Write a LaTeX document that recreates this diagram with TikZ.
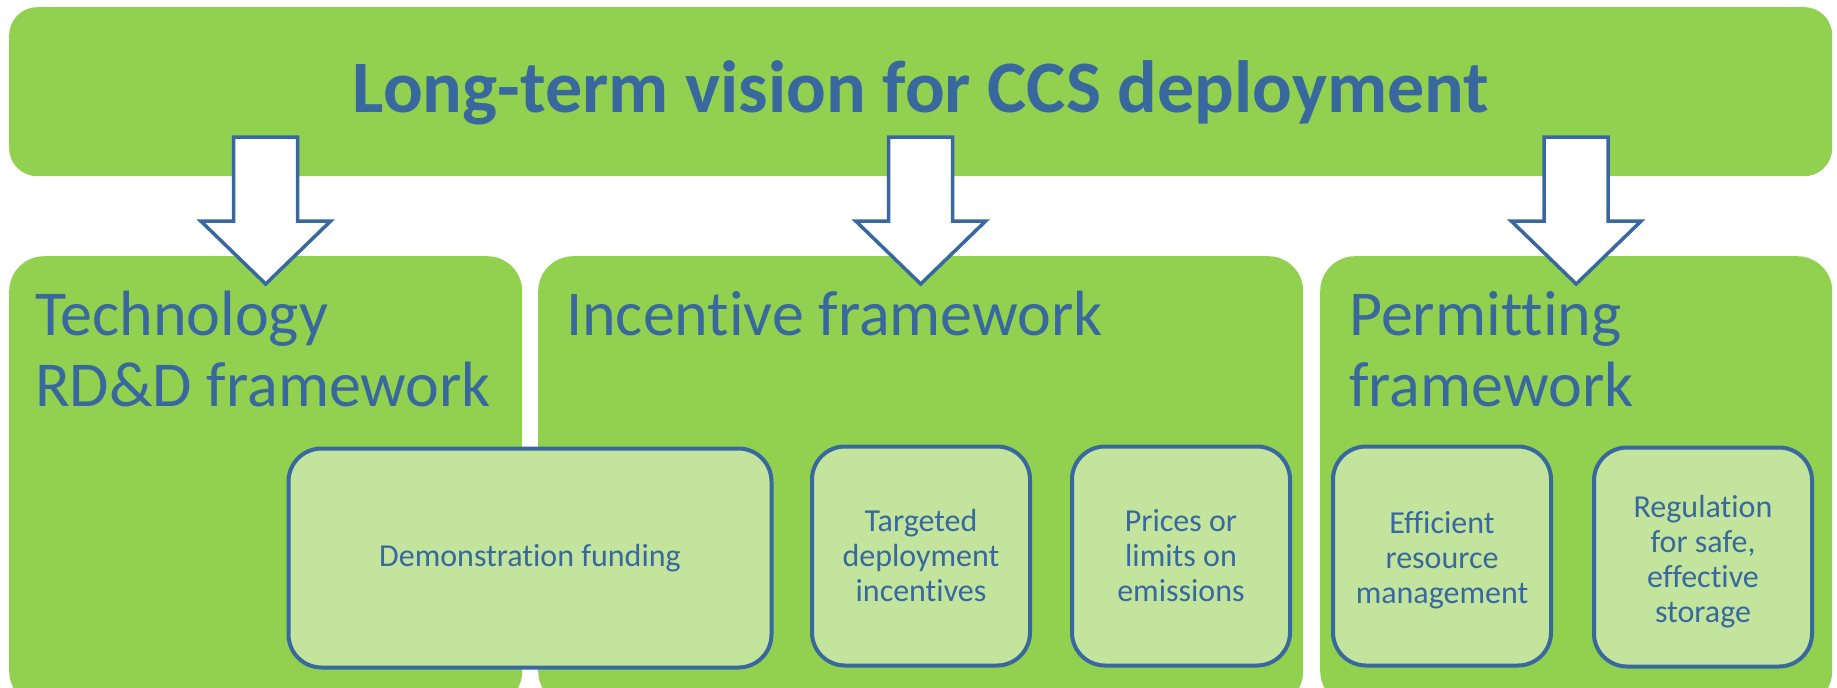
\documentclass[tikz,border=0pt]{standalone}
\usepackage{fontspec}
\setmainfont{Carlito}[Ligatures=NoCommon]
\usetikzlibrary{positioning}
\definecolor{leafgreen}{HTML}{92D050}
\definecolor{palegreen}{HTML}{C3E49C}
\definecolor{inkblue}{HTML}{38689E}
\begin{document}
\begin{tikzpicture}[x=1pt,y=-1pt,
    bigbox/.style={fill=leafgreen, rounded corners=35pt, anchor=north west, inner sep=0pt},
    subtext/.style={align=center, text=inkblue, font=\fontsize{32}{35}\selectfont},
    subbox/.style={subtext, fill=palegreen, draw=inkblue, line width=4pt, rounded corners=33pt, minimum width=218pt, minimum height=219pt},
    heading/.style={text=inkblue, font=\fontsize{64}{71}\selectfont, align=left, anchor=base west, inner sep=0pt},
    downarrow/.pic={\draw[fill=white, draw=inkblue, line width=3.5pt] (-32,0) -- (32,0) -- (32,84) -- (65,84) -- (0,147) -- (-65,84) -- (-32,84) -- cycle;}]
    \useasboundingbox (0,0) rectangle (1837,688);
    \node[bigbox, minimum width=513pt, minimum height=450pt] (tech) at (9,256) {};
    \node[bigbox, minimum width=765pt, minimum height=450pt] (incentive) at (538,256) {};
    \node[bigbox, minimum width=512pt, minimum height=450pt] (permit) at (1320,256) {};
    \node[bigbox, rounded corners=28pt, minimum width=1823pt, minimum height=169pt] (vision) at (9,7) {};
    \node[text=inkblue, font=\fontsize{74}{80}\selectfont\bfseries, anchor=base] (title) at (921,112) {Long-term vision for CCS deployment};
    \node[heading] (techhead) at (35,406) {Technology\\RD\&D framework};
    \node[heading] (inchead) at (566,335) {Incentive framework};
    \node[heading] (permhead) at (1349,406) {Permitting\\framework};
    \pic at (tech.north |- 0,137) {downarrow};
    \pic at (incentive.north |- 0,137) {downarrow};
    \pic at (permit.north |- 0,137) {downarrow};
    \node[subbox, minimum width=483pt] (demo) at (530,558) {Demonstration funding};
    \node[subbox] (targeted) at (921,556) {Targeted\\deployment\\incentives};
    \node[subbox] (prices) at (1181,556) {Prices or\\limits on\\emissions};
    \node[subbox] (efficient) at (1442,556) {};
    \node[subtext] (efficienttext) at ([yshift=-4pt]efficient.center) {Efficient\\resource\\management};
    \node[subbox] (regulation) at (1703,557) {};
    \node[subtext] (regulationtext) at ([yshift=-5pt]regulation.center) {Regulation\\for safe,\\effective\\storage};
\end{tikzpicture}
\end{document}
